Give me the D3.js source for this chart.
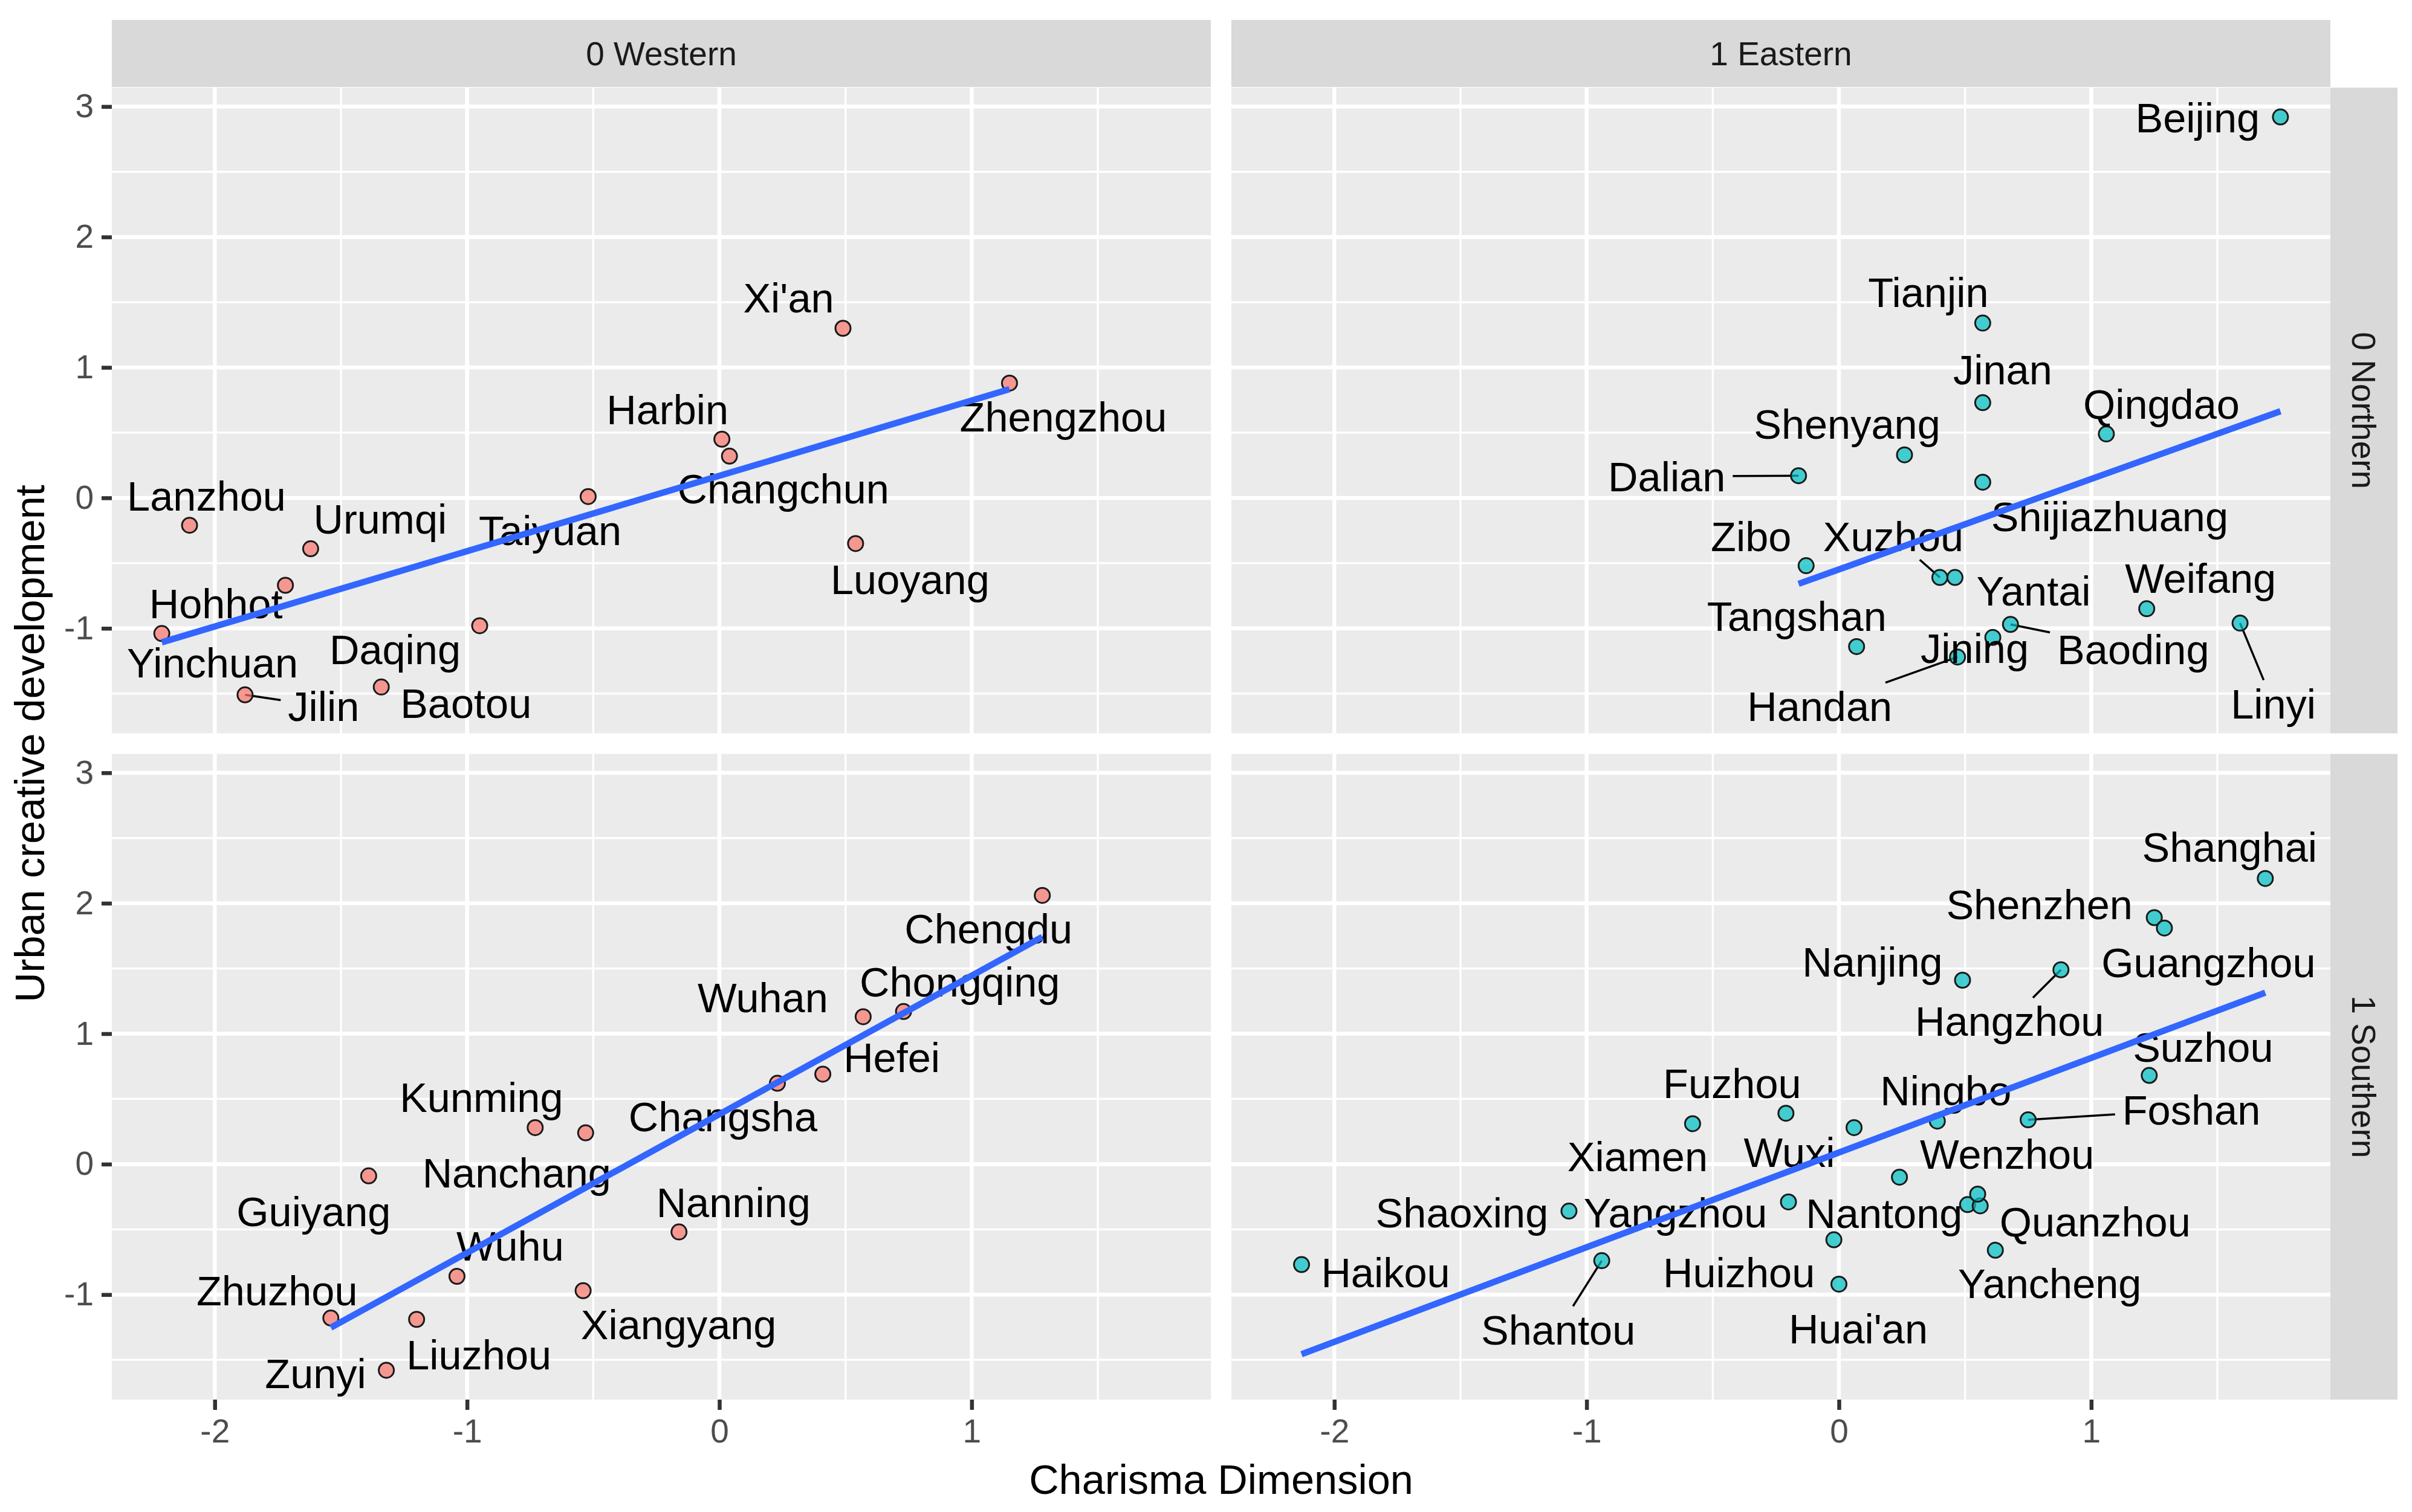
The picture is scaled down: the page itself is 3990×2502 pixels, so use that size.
<!DOCTYPE html>
<html>
<head>
<meta charset="utf-8">
<script src="https://cdn.jsdelivr.net/npm/d3@7"></script>
<style>
body { margin: 0; background: #fff; }
text { font-family: "Liberation Sans", Arial, sans-serif; }
</style>
</head>
<body>
<div class="canvas"></div>
<script>
// facet labels and ticks
const regions = ['0 Western', '1 Eastern'];
const zones = ['0 Northern', '1 Southern'];
const xTicks = [-2, -1, 0, 1];
const yTicks = [-1, 0, 1, 2, 3];

// 0 Western / 0 Northern
const wnCity = ["Xi'an", 'Zhengzhou', 'Harbin', 'Changchun', 'Taiyuan', 'Luoyang', 'Lanzhou', 'Urumqi', 'Hohhot', 'Yinchuan', 'Daqing', 'Jilin', 'Baotou'];
const wnX = [0.49, 1.15, 0.01, 0.04, -0.52, 0.54, -2.10, -1.62, -1.72, -2.21, -0.95, -1.88, -1.34];
const wnY = [1.30, 0.88, 0.45, 0.32, 0.01, -0.35, -0.21, -0.39, -0.67, -1.04, -0.98, -1.51, -1.45];

// 1 Eastern / 0 Northern
const enCity = ['Beijing', 'Tianjin', 'Jinan', 'Qingdao', 'Shenyang', 'Dalian', 'Shijiazhuang', 'Zibo', 'Xuzhou', 'Yantai', 'Weifang', 'Linyi', 'Baoding', 'Jining', 'Tangshan', 'Handan'];
const enX = [1.75, 0.57, 0.57, 1.06, 0.26, -0.16, 0.57, -0.13, 0.40, 0.46, 1.22, 1.59, 0.68, 0.61, 0.07, 0.47];
const enY = [2.92, 1.34, 0.73, 0.49, 0.33, 0.17, 0.12, -0.52, -0.61, -0.61, -0.85, -0.96, -0.97, -1.07, -1.14, -1.22];

// 0 Western / 1 Southern
const wsCity = ['Chengdu', 'Chongqing', 'Wuhan', 'Hefei', 'Changsha', 'Kunming', 'Nanchang', 'Guiyang', 'Nanning', 'Wuhu', 'Xiangyang', 'Zhuzhou', 'Liuzhou', 'Zunyi'];
const wsX = [1.28, 0.73, 0.57, 0.41, 0.23, -0.73, -0.53, -1.39, -0.16, -1.04, -0.54, -1.54, -1.20, -1.32];
const wsY = [2.06, 1.17, 1.13, 0.69, 0.62, 0.28, 0.24, -0.09, -0.52, -0.86, -0.97, -1.18, -1.19, -1.58];

// 1 Eastern / 1 Southern (one point has no label)
const esCity = ['Shanghai', 'Shenzhen', 'Guangzhou', 'Hangzhou', 'Nanjing', 'Suzhou', 'Foshan', 'Fuzhou', 'Ningbo', 'Xiamen', 'Wuxi', 'Wenzhou', 'Shaoxing', 'Yangzhou', 'Nantong', 'Quanzhou', '', 'Haikou', 'Huizhou', 'Yancheng', 'Shantou', "Huai'an"];
const esX = [1.69, 1.25, 1.29, 0.88, 0.49, 1.23, 0.75, -0.21, 0.39, -0.58, 0.06, 0.24, -1.07, -0.20, 0.51, 0.56, 0.55, -2.13, -0.02, 0.62, -0.94, 0.00];
const esY = [2.19, 1.89, 1.81, 1.49, 1.41, 0.68, 0.34, 0.39, 0.33, 0.31, 0.28, -0.10, -0.36, -0.29, -0.31, -0.32, -0.23, -0.77, -0.58, -0.66, -0.74, -0.92];

// label placement (px from the point, like ggrepel left them)
const labelShift = {
    "Xi'an": [-90, -51], Zhengzhou: [89, 56], Harbin: [-90, -49], Changchun: [89, 54], Taiyuan: [-63, 56],
    Luoyang: [90, 59], Lanzhou: [28, -49], Urumqi: [115, -50], Hohhot: [-115, 30], Yinchuan: [84, 48],
    Daqing: [-140, 39], Jilin: [130, 19], Baotou: [140, 27],
    Beijing: [-137, 1], Tianjin: [-90, -51], Jinan: [33, -55], Qingdao: [91, -50], Shenyang: [-95, -51],
    Dalian: [-218, 1], Shijiazhuang: [210, 57], Zibo: [-91, -49], Xuzhou: [-77, -68], Yantai: [130, 22],
    Weifang: [89, -51], Linyi: [55, 133], Baoding: [203, 41], Jining: [-30, 18], Tangshan: [-99, -50], Handan: [-228, 81],
    Chengdu: [-89, 55], Chongqing: [93, -49], Wuhan: [-166, -32], Hefei: [114, -28], Changsha: [-90, 55],
    Kunming: [-89, -50], Nanchang: [-114, 66], Guiyang: [-91, 59], Nanning: [90, -49], Wuhu: [88, -51],
    Xiangyang: [158, 56], Zhuzhou: [-89, -46], Liuzhou: [103, 58], Zunyi: [-117, 5],
    Shanghai: [-59, -52], Shenzhen: [-190, -22], Guangzhou: [73, 57], Nanjing: [-149, -31], Hangzhou: [-85, 85],
    Suzhou: [89, -47], Foshan: [270, -17], Fuzhou: [-89, -50], Ningbo: [14, -51], Xiamen: [-91, 54],
    Wuxi: [-107, 41], Wenzhou: [178, -38], Shaoxing: [-177, 2], Yangzhou: [-187, 18], Nantong: [-138, 14],
    Quanzhou: [190, 26], Haikou: [139, 13], Huizhou: [-157, 54], Yancheng: [90, 55], Shantou: [-72, 114], "Huai'an": [32, 74]
};
const withSegment = ['Jilin', 'Dalian', 'Xuzhou', 'Linyi', 'Baoding', 'Handan', 'Hangzhou', 'Foshan', 'Shantou'];

const W = 3990, H = 2502;
const margin = { top: 145, right: 135, bottom: 186, left: 185 };
const gap = 34;
const panelW = (W - margin.left - margin.right - gap) / 2;
const panelH = (H - margin.top - margin.bottom - gap) / 2;
const stripSize = 111;
const labelSize = 68.5, tickSize = 55;

const svg = d3.select('.canvas')
    .append('svg')
    .attr('width', W)
    .attr('height', H);

const expand = ([a, b]) => { const p = (b - a) * 0.05; return [a - p, b + p]; };

const allX = [].concat(wnX, enX, wsX, esX);
const allY = [].concat(wnY, enY, wsY, esY);

const x = d3.scaleLinear().domain(expand(d3.extent(allX))).range([0, panelW]);
const y = d3.scaleLinear().domain(expand(d3.extent(allY))).range([panelH, 0]);

const xMinor = d3.range(-2.5, 2.5, 1).filter(v => v > x.domain()[0] && v < x.domain()[1]);
const yMinor = d3.range(-1.5, 3.5, 1).filter(v => v > y.domain()[0] && v < y.domain()[1]);

const panels = [
    { row: 0, col: 0, city: wnCity, xs: wnX, ys: wnY, fill: '#F8766D' },
    { row: 0, col: 1, city: enCity, xs: enX, ys: enY, fill: '#00BFC4' },
    { row: 1, col: 0, city: wsCity, xs: wsX, ys: wsY, fill: '#F8766D' },
    { row: 1, col: 1, city: esCity, xs: esX, ys: esY, fill: '#00BFC4' }
];

// least squares fit, like geom_smooth(method = 'lm')
function fit(xs, ys) {
    const mx = d3.mean(xs), my = d3.mean(ys);
    const b = d3.sum(xs, (v, i) => (v - mx) * (ys[i] - my)) / d3.sum(xs, v => (v - mx) ** 2);
    return { b, a: my - b * mx };
}

panels.forEach(p => {
    const left = margin.left + p.col * (panelW + gap);
    const top = margin.top + p.row * (panelH + gap);
    const g = svg.append('g').attr('transform', `translate(${left}, ${top})`);

    g.append('rect').attr('width', panelW).attr('height', panelH).attr('fill', '#EBEBEB');

    g.selectAll('.xminor').data(xMinor).enter().append('line')
        .attr('x1', d => x(d)).attr('x2', d => x(d)).attr('y1', 0).attr('y2', panelH)
        .attr('stroke', '#fff').attr('stroke-width', 3.3);
    g.selectAll('.yminor').data(yMinor).enter().append('line')
        .attr('y1', d => y(d)).attr('y2', d => y(d)).attr('x1', 0).attr('x2', panelW)
        .attr('stroke', '#fff').attr('stroke-width', 3.3);
    g.selectAll('.xmajor').data(xTicks).enter().append('line')
        .attr('x1', d => x(d)).attr('x2', d => x(d)).attr('y1', 0).attr('y2', panelH)
        .attr('stroke', '#fff').attr('stroke-width', 6.5);
    g.selectAll('.ymajor').data(yTicks).enter().append('line')
        .attr('y1', d => y(d)).attr('y2', d => y(d)).attr('x1', 0).attr('x2', panelW)
        .attr('stroke', '#fff').attr('stroke-width', 6.5);

    const pts = p.city.map((c, i) => ({ name: c, cx: x(p.xs[i]), cy: y(p.ys[i]) }));

    const segG = g.append('g');
    const ptG = g.append('g');
    const lblG = g.append('g');
    const lineG = g.append('g');

    ptG.selectAll('circle').data(pts).enter().append('circle')
        .attr('cx', d => d.cx).attr('cy', d => d.cy).attr('r', 12.5)
        .attr('fill', p.fill).attr('fill-opacity', 0.72)
        .attr('stroke', '#1a1a1a').attr('stroke-width', 3);

    const labelled = pts.filter(d => d.name !== '');
    lblG.selectAll('text').data(labelled).enter().append('text')
        .attr('x', d => d.cx + labelShift[d.name][0])
        .attr('y', d => d.cy + labelShift[d.name][1])
        .attr('dy', '0.358em')
        .attr('text-anchor', 'middle')
        .attr('font-size', labelSize)
        .attr('fill', '#000')
        .text(d => d.name)
        .each(function (d) { d.w = this.getComputedTextLength(); });

    // segment from the point to the edge of its label box
    labelled.filter(d => withSegment.includes(d.name)).forEach(d => {
        const lx = d.cx + labelShift[d.name][0], ly = d.cy + labelShift[d.name][1];
        const hw = d.w / 2 + 12, hh = labelSize * 0.36 + 14;
        const vx = d.cx - lx, vy = d.cy - ly;
        const t = Math.min(Math.abs(hw / (vx || 1e-9)), Math.abs(hh / (vy || 1e-9)));
        segG.append('line')
            .attr('x1', d.cx).attr('y1', d.cy)
            .attr('x2', lx + vx * t).attr('y2', ly + vy * t)
            .attr('stroke', '#000').attr('stroke-width', 3.5);
    });

    const { a, b } = fit(p.xs, p.ys);
    const [x0, x1] = d3.extent(p.xs);
    lineG.append('line')
        .attr('x1', x(x0)).attr('y1', y(a + b * x0))
        .attr('x2', x(x1)).attr('y2', y(a + b * x1))
        .attr('stroke', '#3366FF').attr('stroke-width', 10.5);

    // axes on the outer panels
    if (p.col === 0) {
        const ax = g.append('g').call(d3.axisLeft(y).tickValues(yTicks)
            .tickFormat(d => String(d)).tickSize(17).tickPadding(13));
        styleAxis(ax);
    }
    if (p.row === 1) {
        const ax = g.append('g').attr('transform', `translate(0, ${panelH})`)
            .call(d3.axisBottom(x).tickValues(xTicks)
                .tickFormat(d => String(d)).tickSize(17).tickPadding(15));
        styleAxis(ax);
    }

    // strips
    if (p.row === 0) {
        g.append('rect').attr('y', -stripSize - 1).attr('width', panelW).attr('height', stripSize).attr('fill', '#D9D9D9');
        g.append('text').attr('x', panelW / 2).attr('y', -stripSize / 2 - 1).attr('dy', '0.358em')
            .attr('text-anchor', 'middle').attr('font-size', tickSize).attr('fill', '#1A1A1A')
            .text(regions[p.col]);
    }
    if (p.col === 1) {
        g.append('rect').attr('x', panelW).attr('width', stripSize).attr('height', panelH).attr('fill', '#D9D9D9');
        g.append('text')
            .attr('transform', `translate(${panelW + stripSize / 2}, ${panelH / 2}) rotate(90)`)
            .attr('dy', '0.358em')
            .attr('text-anchor', 'middle').attr('font-size', tickSize).attr('fill', '#1A1A1A')
            .text(zones[p.row]);
    }
});

function styleAxis(ax) {
    ax.select('.domain').remove();
    ax.selectAll('line').attr('stroke', '#333333').attr('stroke-width', 6.5);
    ax.selectAll('text')
        .attr('font-size', tickSize)
        .attr('fill', '#4D4D4D')
        .style('font-family', '"Liberation Sans", Arial, sans-serif');
}

// axis titles
svg.append('text')
    .attr('x', margin.left + panelW + gap / 2)
    .attr('y', 2472)
    .attr('text-anchor', 'middle')
    .attr('font-size', labelSize)
    .attr('fill', '#000')
    .text('Charisma Dimension');

svg.append('text')
    .attr('transform', `translate(73, ${margin.top + panelH + gap / 2}) rotate(-90)`)
    .attr('text-anchor', 'middle')
    .attr('font-size', labelSize)
    .attr('fill', '#000')
    .text('Urban creative development');
</script>
</body>
</html>
